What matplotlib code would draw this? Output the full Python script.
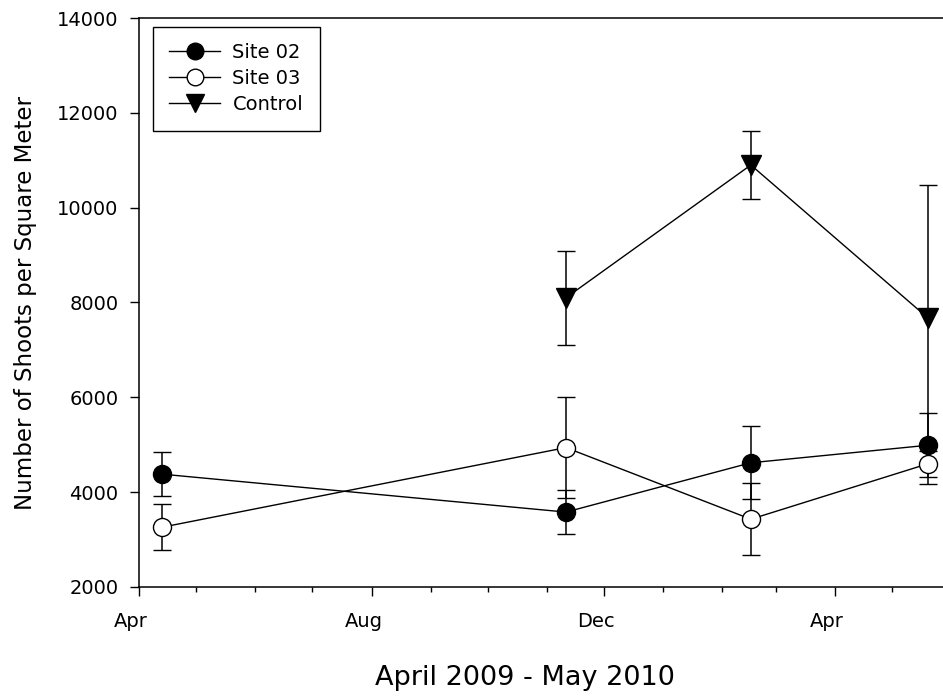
import datetime as dt
import numpy as np
import matplotlib
matplotlib.use('Agg')
import matplotlib.pyplot as plt
import matplotlib.dates as mdates
import matplotlib.transforms as mtransforms

# sampling dates
dates = [dt.date(2009, 4, 13), dt.date(2009, 11, 11), dt.date(2010, 2, 16), dt.date(2010, 5, 20)]

# shoot density per square meter (mean and error)
site02 = [4380, 3580, 4620, 4990]
site02_err = [460, 460, 770, 680]
site03 = [3260, 4940, 3430, 4600]
site03_err = [480, 1070, 760, 430]
control = [np.nan, 8100, 10900, 7670]
control_err = [np.nan, 990, 710, 2810]

W, H = 943, 696
fig = plt.figure(figsize=(W / 100, H / 100), dpi=100)
# axes box in pixels (right edge runs just past the picture)
left, right, top, bottom = 139, 951, 18, 587
ax = fig.add_axes([left / W, 1 - bottom / H, (right - left) / W, (bottom - top) / H])

common = dict(color='black', lw=1.0, elinewidth=1.1, capsize=6.2, capthick=1.1,
              markersize=13, markeredgecolor='black', markeredgewidth=1.0)

# control first so the site markers sit over its error bar
eb_c = ax.errorbar(dates, control, yerr=control_err, fmt='-v', markerfacecolor='black',
                   zorder=2, **dict(common, markersize=14))
eb_2 = ax.errorbar(dates, site02, yerr=site02_err, fmt='-o', markerfacecolor='black',
                   zorder=3, **common)
eb_3 = ax.errorbar(dates, site03, yerr=site03_err, fmt='-o', markerfacecolor='white',
                   zorder=4, **common)

ax.set_xlim(dt.date(2009, 4, 1), dt.date(2010, 6, 1))
ax.set_ylim(2000, 14000)
ax.set_yticks(np.arange(2000, 14001, 2000))

ax.xaxis.set_major_locator(mdates.MonthLocator(bymonth=[4, 8, 12]))
ax.xaxis.set_minor_locator(mdates.MonthLocator())
ax.xaxis.set_major_formatter(mdates.DateFormatter('%b'))

ax.tick_params(axis='both', which='major', direction='out', length=6.7, width=1.0,
               labelsize=14, color='black')
ax.tick_params(axis='x', which='major', pad=11)
ax.tick_params(axis='y', which='major', pad=8)
ax.tick_params(axis='x', which='minor', direction='out', length=3.3, width=1.0)
ax.tick_params(top=False, right=False)

for side in ['left', 'bottom', 'top']:
    ax.spines[side].set_linewidth(1.1)
ax.spines['right'].set_visible(False)

# month labels sit a little left of their ticks in the original
shift = mtransforms.ScaledTranslation(-8 / 100, 0, fig.dpi_scale_trans)
for lbl in ax.get_xticklabels():
    lbl.set_transform(lbl.get_transform() + shift)

ax.set_ylabel('Number of Shoots per Square Meter', fontsize=16.5)
ax.yaxis.set_label_coords((37 - left) / (right - left), 0.5)
ax.set_xlabel('April 2009 - May 2010', fontsize=19.5)
ax.xaxis.set_label_coords((525 - left) / (right - left), -(665 - bottom) / (bottom - top))

leg = ax.legend([eb_2[0], eb_3[0], eb_c[0]], ['Site 02', 'Site 03', 'Control'],
                loc='upper left', bbox_to_anchor=(152.7 / W, 1 - 26.7 / H),
                bbox_transform=fig.transFigure, borderaxespad=0, fontsize=14,
                fancybox=False, framealpha=1, edgecolor='black', handlelength=2.6,
                handletextpad=0.65, labelspacing=0.36, borderpad=0.85, markerscale=0.92)
leg.get_frame().set_linewidth(1.0)

fig.savefig('out.png', dpi=100)
